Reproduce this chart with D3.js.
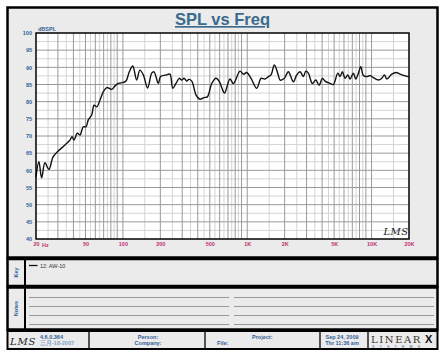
<!DOCTYPE html>
<html><head><meta charset="utf-8">
<script src="https://cdn.jsdelivr.net/npm/d3@7"></script>
<style>
html,body{margin:0;padding:0;background:#fff;}
svg{display:block;font-family:Arial,"Liberation Sans",sans-serif;}
</style></head>
<body>
<script>
// ---- data ----
const freqs = [20,21.1,22.2,23.6,25.4,27.5,30.2,34.2,37.5,39,40.4,43,45.2,48,50.5,52.7,56.1,58.6,61.6,65.5,69.6,74.1,81.3,86.4,91.9,100.8,105.9,112.6,120,129,137,146,158,170.5,178,192.7,201,225,239,252,267,284,297,310,326,339,358,388,417,449,478,518,561,597,643,658,727,773,875,931,991,1073,1193,1292,1391,1479,1554,1652,1760,1837,1989,2142,2350,2502,2660,2829,2956,3102,3342,3560,3784,4022,4227,4636,4930,5348,5582,5824,6122,6436,6716,7140,7466,7834,8190,8594,9151,9727,10340,11348,12084,12680,13260,14541,15750,16966,18368,19772,20000];
const spl = [58.1,62.5,57.8,62.2,60.3,64,65.6,67.4,68.8,69.8,68.8,70.8,70.3,72.7,72.7,74.7,76.1,79,78.5,80.5,82.9,84.1,83.6,84.6,85.3,85.6,86,88.7,90.4,86.3,89.2,87.8,84,88.3,88.7,85.3,87.3,87.8,88,83.9,85.3,86.8,86.3,86.8,86,86.5,86,81.9,80.7,81.2,81.4,85.3,86.8,85.8,82.9,82.5,86.6,85.3,88.9,88,88.5,86.8,83.9,86.8,86.6,87.3,87.8,90.7,88.3,86.3,86.8,88.7,85.8,87.8,88.7,87.3,88.9,88.3,85.3,86.3,84.8,86.8,86,85.3,85,88.3,87.3,88.7,86.8,87.8,86.6,88.3,86.6,88.3,90.2,87.6,87.3,87.6,87,86.3,86.8,87.8,86.6,88,88.5,88,87.6,87.3,87.3];
const yTicks = [40,45,50,55,60,65,70,75,80,85,90,95,100];
const xTickValues = [20,50,100,200,500,1000,2000,5000,10000,20000];
const xTickLabels = ["20","50","100","200","500","1K","2K","5K","10K","20K"];
const seriesName = "12: AW-10";
const title = "SPL vs Freq";
const yUnit = "dBSPL";

// ---- drawing ----
const W = 445, H = 356;
const svg = d3.select("body").append("svg").attr("width", W).attr("height", H);
const BLUE = "#2f5f98", MAG = "#c0306e";

// panels
const panel = (x,y,w,h,sw)=>svg.append("rect").attr("x",x).attr("y",y).attr("width",w).attr("height",h)
  .attr("fill","#ebebeb").attr("stroke","#000").attr("stroke-width",sw);
panel(7.5,7.5,430,250,2.5);
panel(7.5,259,430,27,2.5);
panel(7.5,287.5,430,42,2.5);
panel(7.5,331,430,18,2);

// plot area
const L=36, R=409, T=33, B=239;
const x = d3.scaleLog().domain([20,20000]).range([L,R]);
const y = d3.scaleLinear().domain([40,100]).range([B,T]);

const g = svg.append("g");
g.append("rect").attr("x",L).attr("y",T).attr("width",R-L).attr("height",B-T).attr("fill","#fff");

// minor grid
const minorY = d3.range(42.5,100,5);
g.selectAll(".hy2").data(minorY).join("line").attr("x1",L).attr("x2",R)
  .attr("y1",d=>y(d)).attr("y2",d=>y(d)).attr("stroke","#d4d4d4").attr("stroke-width",1);
const majorX=[], minorX=[];
[10,100,1000,10000].forEach(dec=>{
  for(let k=1;k<10;k++){ const f=k*dec; if(f>20&&f<20000) majorX.push(f); const h=(k+0.5)*dec; if(h>20&&h<20000&&k<9) minorX.push(h);}
});
g.selectAll(".vx2").data(minorX).join("line").attr("y1",T).attr("y2",B)
  .attr("x1",d=>x(d)).attr("x2",d=>x(d)).attr("stroke","#d4d4d4").attr("stroke-width",1);
g.selectAll(".hy").data(yTicks.slice(1,-1)).join("line").attr("x1",L).attr("x2",R)
  .attr("y1",d=>y(d)).attr("y2",d=>y(d)).attr("stroke","#9a9a9a").attr("stroke-width",1);
g.selectAll(".vx").data(majorX).join("line").attr("y1",T).attr("y2",B)
  .attr("x1",d=>x(d)).attr("x2",d=>x(d)).attr("stroke","#9a9a9a").attr("stroke-width",1);

// curve
const line = d3.line().x(d=>x(d[0])).y(d=>y(d[1])).curve(d3.curveCatmullRom.alpha(0.5));
g.append("path").datum(freqs.map((f,i)=>[f,spl[i]])).attr("d",line)
  .attr("fill","none").attr("stroke","#111").attr("stroke-width",1.4).attr("stroke-linejoin","round");

g.append("rect").attr("x",L).attr("y",T).attr("width",R-L).attr("height",B-T)
  .attr("fill","none").attr("stroke","#000").attr("stroke-width",1.5);

// axes labels
const yAxis = d3.axisLeft(y).tickValues(yTicks).tickSize(0).tickPadding(4);
const ya = svg.append("g").attr("transform",`translate(${L},0)`).call(yAxis);
ya.select(".domain").remove();
ya.selectAll("text").attr("fill",BLUE).attr("font-size",5.5).attr("font-weight","bold")
  .attr("font-family","Arial, 'Liberation Sans', sans-serif");

const xAxis = d3.axisBottom(x).tickValues(xTickValues).tickSize(0).tickPadding(3)
  .tickFormat((d,i)=>xTickLabels[i]);
const xa = svg.append("g").attr("transform",`translate(0,${B})`).call(xAxis);
xa.select(".domain").remove();
xa.selectAll("text").attr("fill",MAG).attr("font-size",5.5).attr("font-weight","bold")
  .attr("font-family","Arial, 'Liberation Sans', sans-serif");
svg.append("text").attr("x",x(20)+6).attr("y",247.3).text("Hz").attr("fill",MAG)
  .attr("font-size",5.5).attr("font-weight","bold");

svg.append("text").attr("x",L+2).attr("y",T-2.5).text(yUnit).attr("fill",BLUE)
  .attr("font-size",5.5).attr("font-weight","bold");

// title
svg.append("text").attr("x",222.5).attr("y",25).attr("text-anchor","middle").text(title)
  .attr("fill","#3a6b8e").attr("font-size",16.5).attr("font-weight","bold")
  .attr("text-decoration","underline");

// LMS watermark
svg.append("text").attr("x",396).attr("y",235).attr("text-anchor","middle").text("LMS")
  .attr("font-family","'DejaVu Serif', serif").attr("font-style","italic").attr("font-size",10)
  .attr("fill","#222").attr("letter-spacing",0.5);

// key panel
svg.append("line").attr("x1",25).attr("x2",25).attr("y1",259).attr("y2",329).attr("stroke","#000").attr("stroke-width",2);
const vtext=(t,cx,cy)=>svg.append("text").attr("transform",`translate(${cx},${cy}) rotate(-90)`)
  .attr("text-anchor","middle").text(t).attr("fill",BLUE).attr("font-size",5.5).attr("font-weight","bold");
vtext("Key",17.5,272.5);
vtext("Notes",17.5,308.5);
svg.append("line").attr("x1",29).attr("x2",37.5).attr("y1",265.5).attr("y2",265.5).attr("stroke","#111").attr("stroke-width",1.3);
svg.append("text").attr("x",40).attr("y",267.5).text(seriesName).attr("font-size",5.5).attr("fill","#333");

// notes lines
const noteYs=[297.5,306.5,315.5,324.5];
noteYs.forEach(yy=>{
  svg.append("line").attr("x1",29).attr("x2",229).attr("y1",yy).attr("y2",yy).attr("stroke","#999").attr("stroke-width",1.2);
  svg.append("line").attr("x1",234).attr("x2",434).attr("y1",yy).attr("y2",yy).attr("stroke","#999").attr("stroke-width",1.2);
});

// footer
[89,205,320,368].forEach(xx=>svg.append("line").attr("x1",xx).attr("x2",xx).attr("y1",331).attr("y2",349).attr("stroke","#000").attr("stroke-width",1.3));
const ft=(t,xx,yy,anchor,col,fs)=>svg.append("text").attr("x",xx).attr("y",yy).attr("text-anchor",anchor||"start")
  .text(t).attr("fill",col||BLUE).attr("font-size",fs||5.5).attr("font-weight","bold");
svg.append("text").attr("x",10).attr("y",345).text("LMS").attr("font-family","'DejaVu Serif', serif")
  .attr("font-style","italic").attr("font-size",10).attr("fill","#222").attr("letter-spacing",0.8);
ft("4.6.0.364",40,338.5);
ft("三月-18-2007",40,344.5,"start","#7e9fc8");
ft("Person:",148,338.5,"middle");
ft("Company:",148,344.5,"middle");
ft("Project:",252,338.5);
ft("File:",217,344.5);
ft("Sep 24, 2009",342,338.5,"middle");
ft("Thr 11:36 am",342,344.5,"middle");
svg.append("text").attr("x",371).attr("y",343).text("LINEAR").attr("font-family","'DejaVu Serif', serif")
  .attr("font-size",10).attr("fill","#333").attr("letter-spacing",1.6);
svg.append("text").attr("x",425).attr("y",343).text("X").attr("font-family","Arial, sans-serif")
  .attr("font-weight","bold").attr("font-size",11).attr("fill","#111");
svg.append("text").attr("x",372).attr("y",347.8).text("S Y S T E M S").attr("font-size",3.6)
  .attr("fill",BLUE).attr("letter-spacing",2.1);
</script>
</body></html>
